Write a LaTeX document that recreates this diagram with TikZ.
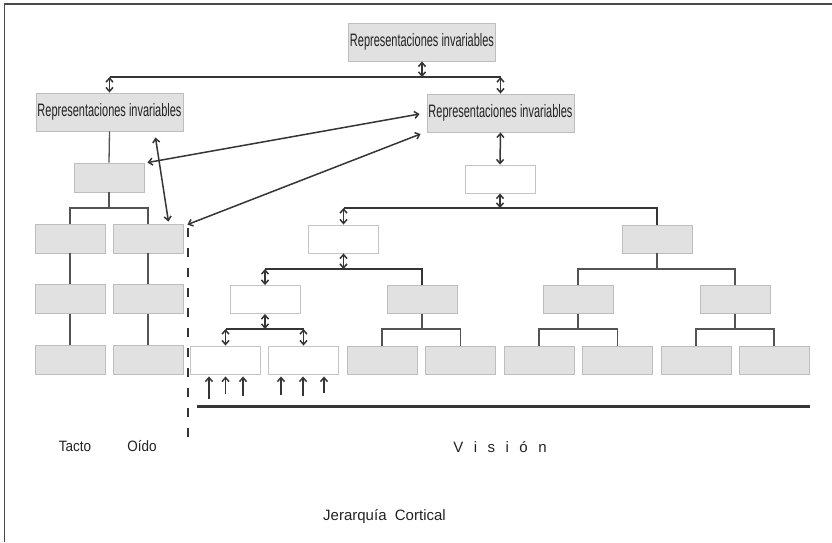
\documentclass[tikz,border=0pt]{standalone}
\usepackage{fontspec}
\setmainfont{Liberation Sans}
\newfontfamily\narrowfont[FakeStretch=0.61]{Liberation Sans}
\newfontfamily\labelfont[FakeStretch=0.9]{Liberation Sans}
\usetikzlibrary{arrows.meta,calc}
\definecolor{boxfill}{HTML}{E1E1E1}
\definecolor{boxline}{HTML}{BDBDBD}
\definecolor{wline}{HTML}{C4C4C4}
\definecolor{ink}{HTML}{353535}
\definecolor{txt}{HTML}{222222}
\begin{document}
\begin{tikzpicture}[x=1pt,y=-1pt,
  >={Straight Barb[length=4pt,width=7pt]},
  gbox/.style={draw=boxline,fill=boxfill,line width=0.9pt,minimum width=70pt,minimum height=28pt,inner sep=0pt},
  wbox/.style={draw=wline,fill=white,line width=0.9pt,minimum width=70pt,minimum height=28pt,inner sep=0pt},
  rbox/.style={draw=boxline,fill=boxfill,line width=0.9pt,minimum width=147pt,minimum height=38pt,inner sep=0pt,
    font=\narrowfont\fontsize{18}{21}\selectfont,text=txt},
  link/.style={draw=ink,line width=1.5pt},
  tree/.style={draw=ink!85,line width=1.3pt},
  dbl/.style={link,<->},
  lbl/.style={text=txt,inner sep=0pt}]
\useasboundingbox (0,0) rectangle (832,542);
% frame
\draw[ink!90,line width=1.4pt] (4.5,542) -- (4.5,4) -- (832,4);
% top level
\node[rbox] (top) at (422,42) {Representaciones invariables};
\node[rbox] (riL) at (109.5,112) {Representaciones invariables};
\node[rbox] (riR) at (500.5,113) {Representaciones invariables};
\coordinate (barA) at (0,77);
\draw[link] (riL.north |- barA) -- (riR.north |- barA);
\draw[dbl] (riL.north) -- (riL.north |- barA);
\draw[dbl] (riR.north) -- (riR.north |- barA);
\draw[dbl] (top.south) -- (top.south |- barA);
% left hierarchy
\node[gbox,minimum height=29pt] (sg) at (109,177.5) {};
\node[gbox,minimum height=29pt] (t1) at (70,238.5) {};
\node[gbox,minimum height=29pt] (t2) at (70,299) {};
\node[gbox,minimum height=29pt] (t3) at (70,359.5) {};
\node[gbox,minimum height=29pt] (o1) at (148,238.5) {};
\node[gbox,minimum height=29pt] (o2) at (148,299) {};
\node[gbox,minimum height=29pt] (o3) at (148,359.5) {};
\draw[tree] (riL.south) -- (sg.north);
\coordinate (barL) at (0,208);
\draw[tree] (sg.south) -- (sg.south |- barL);
\draw[tree] (t1.north) -- (t1.north |- barL) -- (o1.north |- barL) -- (o1.north);
\draw[tree] (t1) -- (t2) (t2) -- (t3) (o1) -- (o2) (o2) -- (o3);
% vision hierarchy
\node[wbox] (w0) at (500,179) {};
\node[wbox] (wA) at (343.5,239) {};
\node[gbox] (gR) at (657,239) {};
\node[wbox] (wB) at (265,299.5) {};
\node[gbox] (g2) at (422,299.5) {};
\node[gbox] (g3) at (578,299.5) {};
\node[gbox] (g4) at (735,299.5) {};
\node[wbox] (w1) at (225.5,360) {};
\node[wbox] (w2) at (303.5,360) {};
\node[gbox] (b1) at (382,360) {};
\node[gbox] (b2) at (460.5,360) {};
\node[gbox] (b3) at (539,360) {};
\node[gbox] (b4) at (617.5,360) {};
\node[gbox] (b5) at (696,360) {};
\node[gbox] (b6) at (774,360) {};
\draw[dbl] (riR.south) -- (w0.north);
\coordinate (barB) at (0,208);
\draw[dbl] (w0.south) -- (w0.south |- barB);
\draw[link] (wA.north |- barB) -- (gR.north |- barB) -- (gR.north);
\draw[dbl] (wA.north |- barB) -- (wA.north);
\coordinate (barC) at (0,269);
\draw[dbl] (wA.south) -- (wA.south |- barC);
\draw[link] (wB.north |- barC) -- (g2.north |- barC) -- (g2.north);
\draw[dbl] (wB.north |- barC) -- (wB.north);
\coordinate (barD) at (0,329);
\draw[dbl] (wB.south) -- (wB.south |- barD);
\draw[link] (w1.north |- barD) -- (w2.north |- barD);
\draw[dbl] (w1.north |- barD) -- (w1.north);
\draw[dbl] (w2.north |- barD) -- (w2.north);
\draw[tree] (g2.south) -- (g2.south |- barD);
\draw[tree] (b1.north) -- (b1.north |- barD) -- (b2.north |- barD) -- (b2.north);
\draw[tree] (gR.south) -- (gR.south |- barC);
\draw[tree] (g3.north) -- (g3.north |- barC) -- (g4.north |- barC) -- (g4.north);
\draw[tree] (g3.south) -- (g3.south |- barD);
\draw[tree] (b3.north) -- (b3.north |- barD) -- (b4.north |- barD) -- (b4.north);
\draw[tree] (g4.south) -- (g4.south |- barD);
\draw[tree] (b5.north) -- (b5.north |- barD) -- (b6.north |- barD) -- (b6.north);
% diagonal links
\draw[dbl] ($(riR.west)+(-7,1)$) -- ($(sg.north east)+(3,0)$);
\draw[dbl] ($(riR.west)+(-6,21)$) -- ($(o1.north east)+(4,1)$);
\draw[dbl] ($(riL.south east)+(-28,6)$) -- ($(o1.north east)+(-15,-2)$);
% input arrows
\foreach \dx/\len [count=\i] in {-16.5/23,0/18,17.5/20} {
  \coordinate (inA\i) at ($(w1.south)+(\dx,\len+2)$);
  \draw[link,->] (inA\i) -- ($(w1.south)+(\dx,2)$);
}
\foreach \dx/\len [count=\i] in {-22.5/19,-0.5/20,20.5/17} {
  \coordinate (inB\i) at ($(w2.south)+(\dx,\len+2)$);
  \draw[link,->] (inB\i) -- ($(w2.south)+(\dx,2)$);
}
% separators
\draw[ink,line width=1.5pt,dash pattern=on 9pt off 11pt] (188,228) -- (188,446);
\draw[ink,line width=3pt] (197,406) -- (810,406);
% labels
\node[lbl,font=\labelfont\fontsize{15}{18}\selectfont] (tacto) at (75,446) {Tacto};
\node[lbl,font=\labelfont\fontsize{15}{18}\selectfont] (oido) at (142,446) {Oído};
\node[lbl,font=\fontsize{15}{18}\selectfont] (vision) at (500,447) {V\hspace{10.5pt}i\hspace{10.5pt}s\hspace{10.5pt}i\hspace{10.5pt}ó\hspace{10.5pt}n};
\node[lbl,font=\fontsize{15}{18}\selectfont] (jer) at (384.5,517) {Jerarquía\ \ Cortical};
\end{tikzpicture}
\end{document}
